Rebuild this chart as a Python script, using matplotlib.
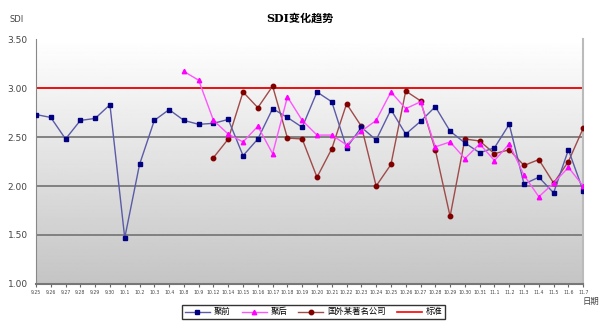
import numpy as np
import matplotlib
matplotlib.use("Agg")
import matplotlib.pyplot as plt

plt.rcParams['font.family'] = ['DejaVu Sans', 'Noto Sans CJK SC']

# 日期标签
dates = ['9.25', '9.26', '9.27', '9.28', '9.29', '9.30', '10.1', '10.2', '10.3', '10.4',
         '10.8', '10.9', '10.12', '10.14', '10.15', '10.16', '10.17', '10.18', '10.19', '10.20',
         '10.21', '10.22', '10.23', '10.24', '10.25', '10.26', '10.27', '10.28', '10.29', '10.30',
         '10.31', '11.1', '11.2', '11.3', '11.4', '11.5', '11.6', '11.7']

# 聚前 (全部日期)
before = [2.73, 2.70, 2.48, 2.67, 2.69, 2.83, 1.47, 2.22, 2.67, 2.78,
          2.67, 2.63, 2.64, 2.68, 2.31, 2.48, 2.79, 2.70, 2.60, 2.96,
          2.86, 2.39, 2.60, 2.47, 2.78, 2.53, 2.66, 2.81, 2.56, 2.44,
          2.34, 2.39, 2.63, 2.02, 2.09, 1.93, 2.37, 1.95]

# 聚后 (从 10.8 开始)
after = [np.nan] * 10 + [3.17, 3.08, 2.67, 2.53, 2.45, 2.61, 2.33, 2.91, 2.67, 2.52,
                         2.52, 2.42, 2.56, 2.67, 2.96, 2.79, 2.86, 2.40, 2.45, 2.28,
                         2.43, 2.26, 2.43, 2.11, 1.89, 2.03, 2.19, 2.00]

# 国外某著名公司 (从 10.12 开始)
foreign = [np.nan] * 12 + [2.29, 2.48, 2.96, 2.80, 3.02, 2.49, 2.48, 2.09,
                           2.38, 2.84, 2.61, 2.00, 2.22, 2.97, 2.87, 2.37, 1.69, 2.48,
                           2.46, 2.33, 2.37, 2.21, 2.27, 2.03, 2.25, 2.59]

standard = 3.0
yticks = [1.00, 1.50, 2.00, 2.50, 3.00, 3.50]

x = np.arange(len(dates))

fig = plt.figure(figsize=(6, 3.26), dpi=100)
ax = fig.add_axes([0.06, 0.129, 0.912, 0.751])

# 渐变背景
grad = np.linspace(1.0, 0.77, 256).reshape(-1, 1)
ax.imshow(grad, cmap='gray', vmin=0, vmax=1, aspect='auto',
          extent=[0, 1, 0, 1], transform=ax.transAxes, zorder=0)

for v in yticks[1:-1]:
    ax.axhline(v, color='#7a7a7a', lw=1.3, zorder=1)
ax.axhline(standard, color='red', lw=1.2, zorder=2)

ax.plot(x, before, '-s', color='#5b5ba8', lw=1.0, markersize=3.2,
        markerfacecolor='#000080', markeredgecolor='#000080', label='聚前', zorder=4)
ax.plot(x, after, '-^', color='#ff55ff', lw=1.0, markersize=3.2,
        markerfacecolor='#ff00ff', markeredgecolor='#ff00ff', label='聚后', zorder=4)
ax.plot(x, foreign, '-o', color='#a04a4a', lw=1.0, markersize=3.2,
        markerfacecolor='#800000', markeredgecolor='#800000', label='国外某著名公司', zorder=3)
ax.plot([], [], color='red', lw=1.2, label='标准')

ax.set_xlim(0, len(dates) - 1)
ax.set_ylim(1.0, 3.5)
ax.set_yticks(yticks)
ax.set_yticklabels([f'{v:.2f}' for v in yticks], fontsize=6.5, color='#444444')
ax.set_xticks(x)
ax.set_xticklabels(dates, fontsize=3.3, color='#444444')
ax.tick_params(axis='x', length=2, pad=2, color='#666666')
ax.tick_params(axis='y', length=0, pad=6)

ax.spines['top'].set_visible(False)
ax.spines['left'].set_color('#888888')
ax.spines['right'].set_color('#bbbbbb')
ax.spines['right'].set_linewidth(1.5)
ax.spines['bottom'].set_color('#777777')
ax.spines['bottom'].set_linewidth(1.5)

fig.text(0.5, 0.945, 'SDI变化趋势', ha='center', va='center', fontsize=8,
         fontweight='bold', family=['DejaVu Serif', 'Noto Sans CJK SC'])
fig.text(0.027, 0.94, 'SDI', ha='center', va='center', fontsize=6, color='#444444')
fig.text(0.985, 0.075, '日期', ha='center', va='center', fontsize=6, color='#444444')

leg = fig.legend(loc='center', bbox_to_anchor=(0.523, 0.043), ncol=4, fontsize=6,
                 frameon=True, fancybox=False, edgecolor='black', handlelength=3,
                 columnspacing=1.3, borderpad=0.3, handletextpad=0.5)
leg.get_frame().set_linewidth(1.0)

fig.savefig('out.png', dpi=100)
